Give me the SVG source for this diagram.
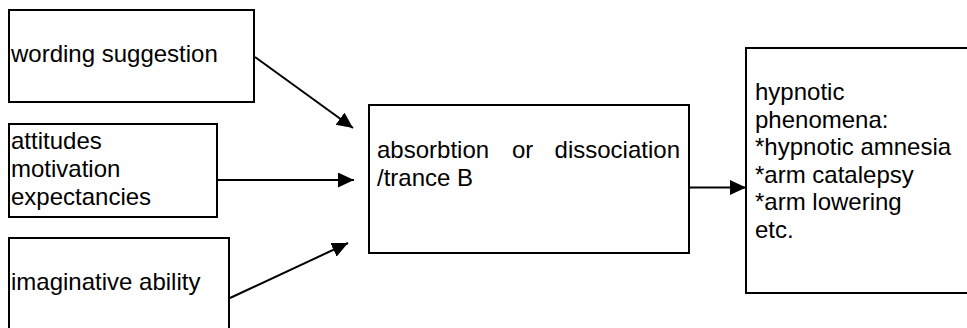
<svg xmlns="http://www.w3.org/2000/svg" width="967" height="328" viewBox="0 0 967 328">
  <defs>
    <marker id="arrow" markerUnits="userSpaceOnUse" markerWidth="17" markerHeight="16" refX="16" refY="7.5" orient="auto">
      <path d="M0,0 L16,7.5 L0,15 z" fill="#000"/>
    </marker>
    <style>
      .box { fill: #fff; stroke: #000; stroke-width: 2; }
      .lbl { font-family: "Liberation Sans", Arial, sans-serif; font-size: 24px; fill: #000; }
      .conn { stroke: #000; stroke-width: 2; fill: none; marker-end: url(#arrow); }
    </style>
  </defs>
  <rect width="967" height="328" fill="#fff"/>

  <g id="wording">
    <rect class="box" x="9" y="10" width="245" height="92"/>
    <text class="lbl" x="11" y="62">wording suggestion</text>
  </g>

  <g id="attitudes">
    <rect class="box" x="9" y="124" width="208" height="93"/>
    <text class="lbl" x="11" y="149">attitudes</text>
    <text class="lbl" x="11" y="177">motivation</text>
    <text class="lbl" x="11" y="205">expectancies</text>
  </g>

  <g id="imaginative">
    <!-- lower edge runs past the bottom of the canvas -->
    <rect class="box" x="9" y="238" width="220" height="95"/>
    <text class="lbl" x="11" y="290">imaginative ability</text>
  </g>

  <g id="absorption">
    <rect class="box" x="369" y="105" width="320" height="148"/>
    <text class="lbl" x="377" y="158">absorbtion</text>
    <text class="lbl" x="512" y="158">or</text>
    <text class="lbl" x="680" y="158" text-anchor="end">dissociation</text>
    <text class="lbl" x="377" y="186">/trance B</text>
  </g>

  <g id="phenomena">
    <!-- right edge runs past the canvas -->
    <rect class="box" x="746" y="48" width="230" height="245"/>
    <text class="lbl" x="755" y="100">hypnotic</text>
    <text class="lbl" x="755" y="128">phenomena:</text>
    <text class="lbl" x="755" y="155">*hypnotic amnesia</text>
    <text class="lbl" x="755" y="183">*arm catalepsy</text>
    <text class="lbl" x="755" y="210">*arm lowering</text>
    <text class="lbl" x="755" y="238">etc.</text>
  </g>

  <g id="connectors">
    <line class="conn" x1="255" y1="57" x2="353" y2="128"/>
    <line class="conn" x1="217" y1="180" x2="354" y2="180"/>
    <line class="conn" x1="230" y1="298" x2="348" y2="243"/>
    <line class="conn" x1="689" y1="187.5" x2="746" y2="187.5"/>
  </g>
</svg>
